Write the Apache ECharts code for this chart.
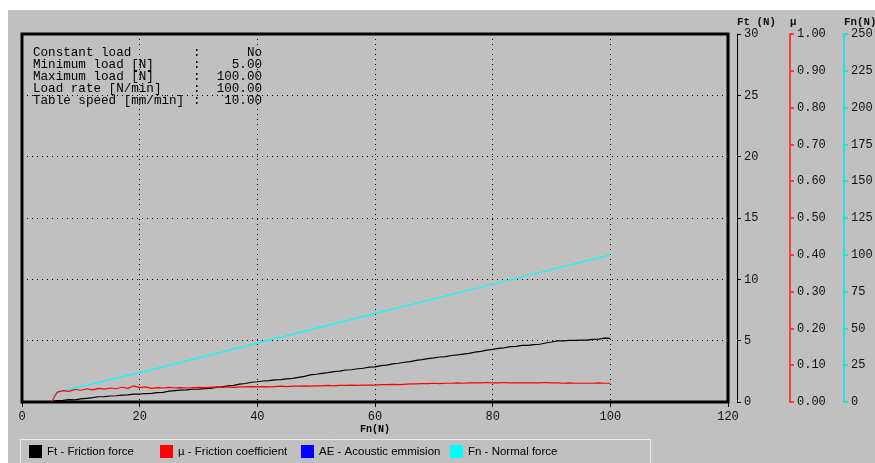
<!DOCTYPE html>
<html>
<head>
<meta charset="utf-8">
<script src="https://cdn.jsdelivr.net/npm/echarts@6/dist/echarts.min.js"></script>
<style>
  html, body { margin:0; padding:0; background:#ffffff; }
  #bg { position:absolute; left:8px; top:10px; width:867px; height:453px; background:#c0c0c0; }
  #chart { position:absolute; left:0; top:0; width:875px; height:463px; }
</style>
</head>
<body>
<div id="bg"></div>
<div id="chart"></div>
<script>
// ---- Data ----
const loadX = [5,6,7,8,9,10,11,12,13,14,15,16,17,18,19,20,21,22,23,24,25,26,27,28,29,30,
  31,32,33,34,35,36,37,38,39,40,41,42,43,44,45,46,47,48,49,50,51,52,53,54,55,56,57,58,59,60,
  61,62,63,64,65,66,67,68,69,70,71,72,73,74,75,76,77,78,79,80,81,82,83,84,85,86,87,88,89,90,
  91,92,93,94,95,96,97,98,99,100];
const frictionForce = [0.04,0.12,0.14,0.19,0.18,0.25,0.30,0.35,0.43,0.44,0.49,0.51,0.56,0.58,0.64,0.65,
  0.69,0.70,0.76,0.78,0.89,0.93,0.97,0.99,1.04,1.05,1.09,1.11,1.19,1.23,1.31,1.36,1.45,1.51,1.61,1.65,
  1.71,1.75,1.81,1.83,1.89,1.92,2.01,2.09,2.21,2.26,2.34,2.39,2.47,2.52,2.61,2.63,2.71,2.75,2.84,2.87,
  2.96,3.01,3.11,3.16,3.24,3.29,3.39,3.45,3.53,3.59,3.67,3.70,3.79,3.84,3.91,3.97,4.07,4.13,4.23,4.29,
  4.37,4.42,4.51,4.54,4.61,4.62,4.68,4.71,4.81,4.89,4.98,4.99,5.03,5.02,5.05,5.05,5.11,5.13,5.20,5.19];
const frictionCoef = [0.000,0.027,0.031,0.029,0.034,0.032,0.036,0.033,0.037,0.035,0.038,0.036,0.040,0.037,0.044,0.039,
  0.041,0.037,0.039,0.038,0.040,0.038,0.039,0.038,0.039,0.040,0.039,0.040,0.041,0.040,0.041,0.040,
  0.041,0.041,0.042,0.041,0.042,0.041,0.042,0.043,0.042,0.043,0.043,0.044,0.043,0.044,0.044,0.045,
  0.044,0.045,0.045,0.046,0.045,0.046,0.046,0.046,0.047,0.047,0.048,0.047,0.048,0.049,0.049,0.050,
  0.050,0.051,0.050,0.051,0.051,0.052,0.051,0.052,0.052,0.052,0.053,0.052,0.052,0.053,0.052,0.052,
  0.052,0.052,0.052,0.052,0.053,0.052,0.052,0.051,0.052,0.051,0.051,0.051,0.051,0.052,0.051,0.051];
const normalX = [5.3,6.5,10,20,40,60,80,100];
const normalForce = [4.5,7,10.5,20,40,60,80,100];
const acousticX = [];
const acoustic = [];

const xTicks = { min:0, max:120, interval:20 };
const ftTicks = { min:0, max:30, interval:5 };
const muTicks = { min:0, max:1, interval:0.1 };
const fnTicks = { min:0, max:250, interval:25 };

const infoLabels = ['Constant load','Minimum load [N]','Maximum load [N]','Load rate [N/min]','Table speed [mm/min]'];
const infoValues = ['No','5.00','100.00','100.00','10.00'];

const seriesNames = ['Ft - Friction force','\u00b5 - Friction coefficient','AE - Acoustic emmision','Fn - Normal force'];
const seriesColors = ['#000000','#ff0000','#0000ff','#00ffff'];

// ---- build ----
const pairs = (xs, ys) => xs.map((x, i) => [x, ys[i]]);
const mono = 'Liberation Mono';

const infoGraphics = [];
infoLabels.forEach((t, i) => {
  const y = 52.5 + i * 12.1;
  infoGraphics.push({ type:'text', x:33, y:y, style:{ text:t, font:'12.6px "Liberation Mono"', fill:'#000', verticalAlign:'middle' }, z:10 });
  infoGraphics.push({ type:'text', x:193, y:y, style:{ text:':', font:'12.6px "Liberation Mono"', fill:'#000', verticalAlign:'middle' }, z:10 });
  infoGraphics.push({ type:'text', x:262, y:y, style:{ text:infoValues[i], font:'12.6px "Liberation Mono"', fill:'#000', align:'right', verticalAlign:'middle' }, z:10 });
});

const legendLefts = [24, 155, 296, 445];
const legends = seriesNames.map((n, i) => ({
  data:[n], left:legendLefts[i], top:440, icon:'rect', itemWidth:13, itemHeight:13,
  textStyle:{ fontFamily:'Liberation Sans', fontSize:11.5, color:'#000' }, selectedMode:false
}));

const yAxisCommon = (o) => Object.assign({
  type:'value', position:'right',
  axisTick:{ show:true, length:4, inside:false },
  axisLabel:{ margin:7, fontFamily:mono, fontSize:12, color:'#111' },
  nameLocation:'end', nameGap:6, nameMoveOverlap:false,
  nameTextStyle:{ fontFamily:mono, fontSize:10.8, color:'#111', align:'left', fontWeight:'bold' }
}, o);

const chart = echarts.init(document.getElementById('chart'), null, { renderer:'canvas' });
chart.setOption({
  backgroundColor:'transparent',
  animation:false,
  grid:{ left:22, top:34, width:706, height:368, show:true, borderColor:'#000', borderWidth:3,
         backgroundColor:'transparent', containLabel:false, outerBoundsMode:'none' },
  legend: legends,
  graphic: [
    { type:'rect', shape:{ x:20.5, y:439.5, width:630, height:40 }, style:{ fill:'none', stroke:'#ececec', lineWidth:1 }, silent:true, z:1 }
  ].concat(infoGraphics),
  xAxis:{
    type:'value', min:xTicks.min, max:xTicks.max, interval:xTicks.interval,
    axisLine:{ show:true, onZero:false, lineStyle:{ color:'#000' } },
    axisTick:{ show:true, length:5, lineStyle:{ color:'#000' } },
    axisLabel:{ margin:9, fontFamily:mono, fontSize:12, color:'#111' },
    splitLine:{ show:true, lineStyle:{ color:'#000', type:[1,4], width:1 } },
    name:'Fn(N)', nameLocation:'middle', nameGap:22, nameMoveOverlap:false,
    nameTextStyle:{ fontFamily:mono, fontSize:10, fontWeight:'bold', color:'#000' }
  },
  yAxis:[
    yAxisCommon({
      min:ftTicks.min, max:ftTicks.max, interval:ftTicks.interval, offset:9, name:'Ft (N)',
      axisLine:{ show:true, onZero:false, lineStyle:{ color:'#000', width:1 } },
      axisTick:{ show:true, length:4, lineStyle:{ color:'#000', width:1 } },
      splitLine:{ show:true, lineStyle:{ color:'#000', type:[1,4], width:1 } }
    }),
    yAxisCommon({
      min:muTicks.min, max:muTicks.max, interval:muTicks.interval, offset:62, name:'\u00b5',
      axisLine:{ show:true, onZero:false, lineStyle:{ color:'#ff3b3b', width:2 } },
      axisTick:{ show:true, length:4, lineStyle:{ color:'#ff3b3b', width:2 } },
      axisLabel:{ margin:7, fontFamily:mono, fontSize:12, color:'#111', formatter:(v)=>v.toFixed(2) },
      splitLine:{ show:false }
    }),
    yAxisCommon({
      min:fnTicks.min, max:fnTicks.max, interval:fnTicks.interval, offset:116, name:'Fn(N)',
      axisLine:{ show:true, onZero:false, lineStyle:{ color:'#00e8e8', width:1.5 } },
      axisTick:{ show:true, length:4, lineStyle:{ color:'#00e8e8', width:1.5 } },
      splitLine:{ show:false }
    })
  ],
  series:[
    { name:seriesNames[3], type:'line', yAxisIndex:2, data:pairs(normalX, normalForce), showSymbol:false,
      lineStyle:{ color:seriesColors[3], width:1.2 }, itemStyle:{ color:seriesColors[3] }, z:3 },
    { name:seriesNames[0], type:'line', yAxisIndex:0, data:pairs(loadX, frictionForce), showSymbol:false,
      lineStyle:{ color:seriesColors[0], width:1.2 }, itemStyle:{ color:seriesColors[0] }, z:4 },
    { name:seriesNames[1], type:'line', yAxisIndex:1, data:pairs(loadX, frictionCoef), showSymbol:false,
      lineStyle:{ color:seriesColors[1], width:1.2 }, itemStyle:{ color:seriesColors[1] }, z:5 },
    { name:seriesNames[2], type:'line', yAxisIndex:0, data:pairs(acousticX, acoustic), showSymbol:false,
      lineStyle:{ color:seriesColors[2], width:1 }, itemStyle:{ color:seriesColors[2] }, z:2 }
  ]
});
</script>
</body>
</html>
